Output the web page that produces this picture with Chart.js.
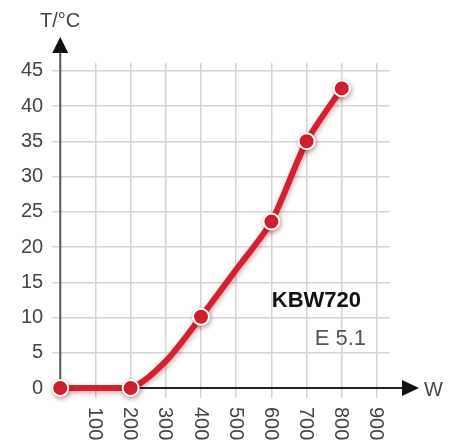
<!DOCTYPE html>
<html>
<head>
<meta charset="utf-8">
<script src="https://cdn.jsdelivr.net/npm/chart.js@4"></script>
<style>
  body { margin: 0; background: #fff; }
  #wrap { width: 462px; height: 444px; }
</style>
</head>
<body>
<div id="wrap"><canvas id="grafico"></canvas></div>
<script>
// power (W) against temperature (°C)
const potencia = [0, 200, 300, 400, 500, 600, 700, 800];
const temperatura = [0, 0, 3.8, 10.1, 16.8, 23.6, 35, 42.5];
const comMarcador = [true, true, false, true, false, true, true, true];
const ticksX = [100, 200, 300, 400, 500, 600, 700, 800, 900];
const ticksY = [0, 5, 10, 15, 20, 25, 30, 35, 40, 45];

const vermelho = '#d42030';
const fonte = '"Liberation Sans", Arial, sans-serif';

const eixos = {
    id: 'eixos',
    beforeDatasetsDraw(chart) {
        const ctx = chart.ctx;
        const x = chart.scales.x, y = chart.scales.y;
        const x0 = x.getPixelForValue(0), y0 = y.getPixelForValue(0);
        ctx.save();
        // y axis with arrow
        ctx.strokeStyle = '#555';
        ctx.lineWidth = 2;
        ctx.beginPath();
        ctx.moveTo(x0, y0);
        ctx.lineTo(x0, 50);
        ctx.stroke();
        ctx.fillStyle = '#111';
        ctx.beginPath();
        ctx.moveTo(x0, 37);
        ctx.lineTo(x0 - 8, 53);
        ctx.lineTo(x0 + 8, 53);
        ctx.closePath();
        ctx.fill();
        // x axis with arrow
        ctx.strokeStyle = '#222';
        ctx.beginPath();
        ctx.moveTo(x0, y0);
        ctx.lineTo(404, y0);
        ctx.stroke();
        ctx.beginPath();
        ctx.moveTo(419, y0);
        ctx.lineTo(402, y0 - 8);
        ctx.lineTo(402, y0 + 8);
        ctx.closePath();
        ctx.fill();
        ctx.restore();
    },
    beforeDatasetDraw(chart) {
        const ctx = chart.ctx;
        ctx.save();
        ctx.shadowColor = 'rgba(120,0,0,0.35)';
        ctx.shadowBlur = 5;
        ctx.shadowOffsetX = 1;
        ctx.shadowOffsetY = 2;
    },
    afterDatasetDraw(chart) {
        chart.ctx.restore();
    },
    afterDraw(chart) {
        const ctx = chart.ctx;
        const x = chart.scales.x, y = chart.scales.y;
        const y0 = y.getPixelForValue(0);
        ctx.save();
        ctx.fillStyle = '#444';
        ctx.font = '20px ' + fonte;
        ctx.textBaseline = 'middle';
        ctx.textAlign = 'left';
        ticksX.forEach(v => {
            ctx.save();
            ctx.translate(x.getPixelForValue(v) - 1, y0 + 19);
            ctx.rotate(Math.PI / 2);
            ctx.fillText(String(v), 0, 0);
            ctx.restore();
        });
        ctx.textBaseline = 'alphabetic';
        ctx.fillText('T/°C', 40, 27);
        ctx.fillText('W', 424, y0 + 8);
        ctx.textAlign = 'right';
        ctx.fillStyle = '#111';
        ctx.font = 'bold 22px ' + fonte;
        ctx.fillText('KBW720', 361, 307);
        ctx.fillStyle = '#555';
        ctx.font = '22px ' + fonte;
        ctx.fillText('E 5.1', 366, 345);
        ctx.restore();
    }
};

new Chart(document.getElementById('grafico'), {
    type: 'line',
    data: {
        datasets: [{
            data: potencia.map((p, i) => ({ x: p, y: temperatura[i] })),
            borderColor: vermelho,
            borderWidth: 6,
            tension: 0.25,
            pointRadius: comMarcador.map(m => m ? 8 : 0),
            pointBackgroundColor: vermelho,
            pointBorderColor: '#fff',
            pointBorderWidth: 2,
            clip: false
        }]
    },
    options: {
        responsive: true,
        maintainAspectRatio: false,
        animation: false,
        layout: { padding: { left: 12, top: 63, right: 72, bottom: 46 } },
        plugins: { legend: { display: false }, tooltip: { enabled: false } },
        scales: {
            x: {
                type: 'linear',
                min: 0,
                max: 937,
                afterBuildTicks: s => { s.ticks = ticksX.map(v => ({ value: v })); },
                grid: { color: '#d4d4d4', lineWidth: 1.5, tickLength: 10 },
                border: { display: false },
                ticks: { display: false }
            },
            y: {
                min: 0,
                max: 46.1,
                afterBuildTicks: s => { s.ticks = ticksY.map(v => ({ value: v })); },
                grid: { color: '#d4d4d4', lineWidth: 1.5, tickLength: 8 },
                border: { display: false },
                ticks: {
                    color: '#444',
                    padding: 9,
                    font: { family: fonte, size: 20 }
                }
            }
        }
    },
    plugins: [eixos]
});
</script>
</body>
</html>
